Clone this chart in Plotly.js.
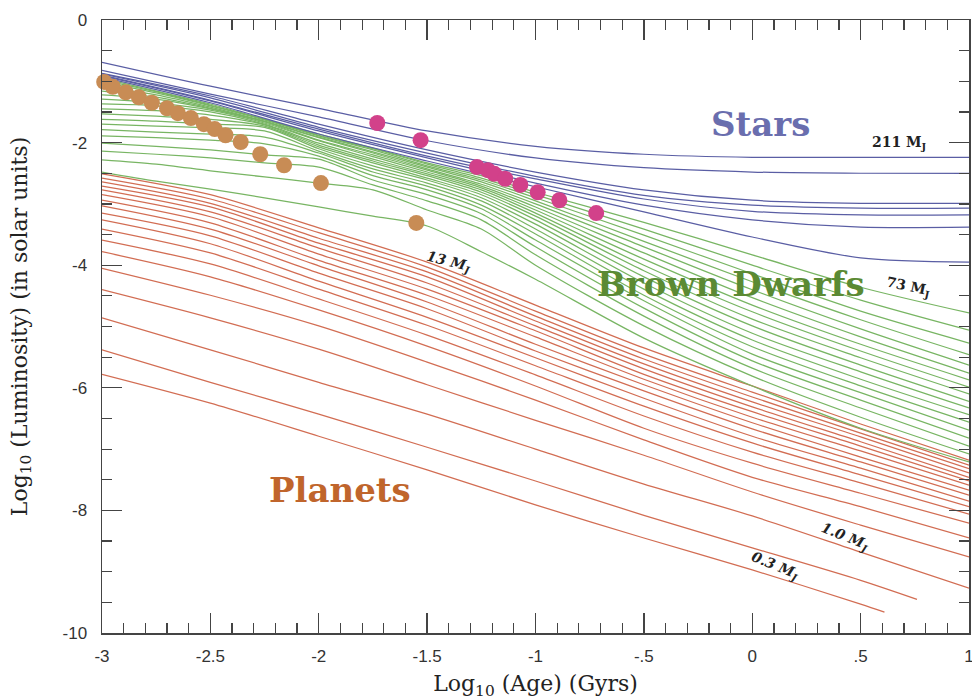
<!DOCTYPE html>
<html>
<head>
<meta charset="utf-8">
<script src="https://cdn.plot.ly/plotly-3.0.1.min.js"></script>
<style>html,body{margin:0;padding:0;background:#fff;}</style>
</head>
<body>
<div id="chart" style="width:972px;height:700px;"></div>
<script>
// Cooling tracks: log10 luminosity (solar units) vs log10 age (Gyr)

// Age knots shared by the star and planet tracks
const ageKnots = [-3, -2.5, -2, -1.5, -1, -0.5, 0, 0.5, 1];

// Stars (211 M_J at top down to the lowest stellar track)
const starLum = [
  [-0.69, -1.08, -1.44, -1.81, -2.06, -2.19, -2.24, -2.24, -2.24],
  [-0.82, -1.21, -1.58, -1.97, -2.25, -2.41, -2.48, -2.50, -2.50],
  [-0.87, -1.24, -1.70, -2.12, -2.48, -2.77, -2.94, -2.99, -2.99],
  [-0.88, -1.27, -1.75, -2.17, -2.55, -2.86, -3.02, -3.07, -3.07],
  [-0.90, -1.31, -1.78, -2.22, -2.59, -2.92, -3.12, -3.18, -3.18],
  [-0.91, -1.32, -1.81, -2.25, -2.66, -3.02, -3.26, -3.38, -3.38],
  [-0.93, -1.35, -1.86, -2.30, -2.72, -3.13, -3.54, -3.88, -3.95]
];

// Brown dwarfs (73 M_J at top down to 13 M_J)
const dwarfAgeKnots = [-3, -2.75, -2.5, -2.25, -2, -1.75, -1.5, -1.25, -1, -0.5, 0, 0.5, 1];
const dwarfLum = [
  [-0.95, -1.16, -1.37, -1.62, -1.86, -2.09, -2.33, -2.54, -2.81, -3.30, -3.83, -4.36, -4.78],
  [-0.98, -1.17, -1.39, -1.62, -1.88, -2.10, -2.35, -2.58, -2.85, -3.41, -4.00, -4.57, -5.06],
  [-1.01, -1.19, -1.40, -1.63, -1.89, -2.12, -2.38, -2.61, -2.90, -3.51, -4.14, -4.75, -5.27],
  [-1.09, -1.22, -1.42, -1.65, -1.91, -2.15, -2.40, -2.64, -2.95, -3.61, -4.27, -4.89, -5.46],
  [-1.16, -1.26, -1.44, -1.66, -1.92, -2.17, -2.43, -2.68, -3.00, -3.70, -4.40, -5.04, -5.63],
  [-1.22, -1.29, -1.45, -1.66, -1.96, -2.20, -2.45, -2.71, -3.05, -3.80, -4.53, -5.17, -5.76],
  [-1.29, -1.35, -1.47, -1.68, -1.97, -2.23, -2.48, -2.74, -3.10, -3.90, -4.65, -5.29, -5.87],
  [-1.37, -1.40, -1.50, -1.70, -2.01, -2.27, -2.51, -2.77, -3.15, -4.00, -4.76, -5.40, -5.99],
  [-1.45, -1.48, -1.55, -1.71, -2.04, -2.30, -2.54, -2.81, -3.20, -4.09, -4.88, -5.51, -6.10],
  [-1.53, -1.57, -1.62, -1.73, -2.07, -2.33, -2.58, -2.85, -3.26, -4.19, -4.99, -5.63, -6.22],
  [-1.62, -1.65, -1.70, -1.75, -2.10, -2.38, -2.61, -2.90, -3.33, -4.29, -5.11, -5.74, -6.33],
  [-1.70, -1.73, -1.76, -1.81, -2.14, -2.43, -2.66, -2.95, -3.41, -4.39, -5.22, -5.86, -6.44],
  [-1.79, -1.83, -1.86, -1.91, -2.17, -2.48, -2.71, -3.02, -3.49, -4.49, -5.33, -5.97, -6.56],
  [-1.89, -1.92, -1.96, -2.02, -2.22, -2.54, -2.77, -3.08, -3.59, -4.58, -5.45, -6.08, -6.69],
  [-2.01, -2.06, -2.12, -2.20, -2.27, -2.61, -2.85, -3.16, -3.70, -4.70, -5.56, -6.20, -6.82],
  [-2.14, -2.19, -2.25, -2.33, -2.40, -2.69, -2.95, -3.26, -3.83, -4.83, -5.68, -6.33, -6.95],
  [-2.28, -2.35, -2.46, -2.56, -2.66, -2.77, -3.10, -3.41, -4.00, -4.99, -5.81, -6.48, -7.08],
  [-2.48, -2.63, -2.76, -2.90, -3.05, -3.20, -3.36, -3.78, -4.23, -5.19, -5.97, -6.66, -7.21]
];

// Planets (top track down to 0.3 M_J); last value sits at planetEndAge
const planetLum = [
  [-2.51, -2.85, -3.39, -3.95, -4.65, -5.35, -5.97, -6.59, -7.18],
  [-2.58, -2.92, -3.47, -4.03, -4.75, -5.45, -6.07, -6.67, -7.26],
  [-2.64, -2.99, -3.56, -4.11, -4.83, -5.53, -6.15, -6.74, -7.32],
  [-2.71, -3.05, -3.64, -4.19, -4.91, -5.61, -6.23, -6.80, -7.39],
  [-2.77, -3.13, -3.72, -4.29, -4.99, -5.69, -6.31, -6.88, -7.46],
  [-2.85, -3.21, -3.82, -4.39, -5.07, -5.78, -6.39, -6.95, -7.52],
  [-2.94, -3.31, -3.92, -4.49, -5.17, -5.86, -6.48, -7.03, -7.59],
  [-3.03, -3.41, -4.01, -4.60, -5.29, -5.95, -6.57, -7.13, -7.67],
  [-3.15, -3.52, -4.13, -4.71, -5.40, -6.05, -6.67, -7.21, -7.75],
  [-3.26, -3.65, -4.26, -4.85, -5.51, -6.17, -6.79, -7.31, -7.85],
  [-3.41, -3.80, -4.39, -4.98, -5.64, -6.30, -6.90, -7.42, -7.94],
  [-3.59, -3.98, -4.55, -5.14, -5.79, -6.46, -7.05, -7.55, -8.06],
  [-3.78, -4.19, -4.73, -5.32, -5.97, -6.66, -7.23, -7.72, -8.21],
  [-4.05, -4.49, -4.99, -5.58, -6.20, -6.85, -7.46, -7.94, -8.45],
  [-4.40, -4.86, -5.37, -5.95, -6.53, -7.10, -7.70, -8.24, -8.76],
  [-4.86, -5.38, -5.91, -6.43, -7.00, -7.57, -8.09, -8.68, -9.27],
  [-5.38, -5.91, -6.43, -6.97, -7.52, -8.08, -8.61, -9.14, -9.45],
  [-5.78, -6.25, -6.79, -7.34, -7.91, -8.45, -8.97, -9.53, -9.66]
];
const planetEndAge = [1, 1, 1, 1, 1, 1, 1, 1, 1, 1, 1, 1, 1, 1, 1, 1, 0.76, 0.61];

// 50% deuterium burned (gold) and 50% lithium burned (magenta)
const goldAge = [-2.99, -2.95, -2.89, -2.83, -2.77, -2.70, -2.65, -2.59, -2.53, -2.48, -2.43, -2.36, -2.27, -2.16, -1.99, -1.55];
const goldLum = [-1.01, -1.09, -1.18, -1.26, -1.35, -1.44, -1.52, -1.60, -1.70, -1.78, -1.88, -1.99, -2.19, -2.37, -2.66, -3.31];
const magentaAge = [-1.73, -1.53, -1.27, -1.22, -1.19, -1.14, -1.07, -0.99, -0.89, -0.72];
const magentaLum = [-1.68, -1.96, -2.40, -2.45, -2.51, -2.59, -2.69, -2.81, -2.94, -3.15];

const xTickVals = [-3, -2.5, -2, -1.5, -1, -0.5, 0, 0.5, 1];
const xTickText = ['-3', '-2.5', '-2', '-1.5', '-1', '-.5', '0', '.5', '1'];
const yTickVals = [0, -2, -4, -6, -8, -10];
const yTickText = ['0', '-2', '-4', '-6', '-8', '-10'];

const BLUE = '#5a5ea4';
const GREEN = '#78b563';
const RED = '#d26d53';

function track(x, y, color) {
  return {
    x: x, y: y, type: 'scatter', mode: 'lines',
    line: {color: color, width: 1.25, shape: 'spline', smoothing: 0.8},
    hoverinfo: 'skip', showlegend: false
  };
}

const traces = [];
planetLum.forEach((row, i) => {
  const xs = ageKnots.slice(0, 8).concat([planetEndAge[i]]);
  traces.push(track(xs, row, RED));
});
dwarfLum.forEach(row => traces.push(track(dwarfAgeKnots, row, GREEN)));
starLum.forEach(row => traces.push(track(ageKnots, row, BLUE)));

traces.push({
  x: goldAge, y: goldLum, type: 'scatter', mode: 'markers', cliponaxis: false,
  marker: {size: 16, color: '#c88c55'}, hoverinfo: 'skip', showlegend: false
});
traces.push({
  x: magentaAge, y: magentaLum, type: 'scatter', mode: 'markers', cliponaxis: false,
  marker: {size: 16, color: '#d2418a'}, hoverinfo: 'skip', showlegend: false
});

const bigFont = (c) => ({family: 'DejaVu Serif', size: 34, color: c});
const tagFont = {family: 'DejaVu Serif', size: 14, color: '#222'};

const annotations = [
  {x: 0.04, y: -1.70, text: '<b>Stars</b>', font: bigFont('#6a6eae')},
  {x: -0.10, y: -4.31, text: '<b>Brown Dwarfs</b>', font: bigFont('#5b8a33')},
  {x: -1.90, y: -7.67, text: '<b>Planets</b>', font: bigFont('#c0652c')},
  {x: 0.68, y: -2.01, text: '<b>211 M<sub>J</sub></b>', font: tagFont},
  {x: 0.72, y: -4.36, text: '<b>73 M<sub>J</sub></b>', font: tagFont, textangle: 12},
  {x: -1.40, y: -3.95, text: '<b><i>13 M<sub>J</sub></i></b>', font: tagFont, textangle: 14},
  {x: 0.43, y: -8.43, text: '<b><i>1.0 M<sub>J</sub></i></b>', font: tagFont, textangle: 22},
  {x: 0.105, y: -8.91, text: '<b><i>0.3 M<sub>J</sub></i></b>', font: tagFont, textangle: 22}
].map(a => Object.assign({xref: 'x', yref: 'y', showarrow: false}, a));

const axisCommon = {
  showgrid: false, zeroline: false, showline: true, linecolor: '#444', linewidth: 1.5,
  mirror: 'allticks', ticks: 'inside', ticklen: 20, tickwidth: 1.4, tickcolor: '#444',
  tickmode: 'array', ticklabeloverflow: 'allow',
  tickfont: {family: 'Liberation Sans', size: 17, color: '#333'}
};

const layout = {
  width: 972, height: 700,
  margin: {l: 102, r: 3, t: 20, b: 67},
  paper_bgcolor: '#fff', plot_bgcolor: '#fff',
  xaxis: Object.assign({}, axisCommon, {
    range: [-3, 1], tickvals: xTickVals, ticktext: xTickText,
    ticklabelstandoff: 7,
    minor: {tickmode: 'linear', tick0: -3, dtick: 0.1, ticks: 'inside', ticklen: 10, tickwidth: 1.2, tickcolor: '#444', showgrid: false},
    title: {text: 'Log<sub>10</sub> (Age) (Gyrs)', font: {family: 'DejaVu Serif', size: 22, color: '#222'}, standoff: 14}
  }),
  yaxis: Object.assign({}, axisCommon, {
    range: [-10, 0], tickvals: yTickVals, ticktext: yTickText,
    ticklabelstandoff: 10,
    minor: {tickmode: 'linear', tick0: 0, dtick: 0.5, ticks: 'inside', ticklen: 10, tickwidth: 1.2, tickcolor: '#444', showgrid: false},
    title: {text: 'Log<sub>10</sub> (Luminosity) (in solar units)', font: {family: 'DejaVu Serif', size: 22, color: '#222'}, standoff: 29}
  }),
  annotations: annotations
};

Plotly.newPlot('chart', traces, layout, {displayModeBar: false, staticPlot: true});
</script>
</body>
</html>
